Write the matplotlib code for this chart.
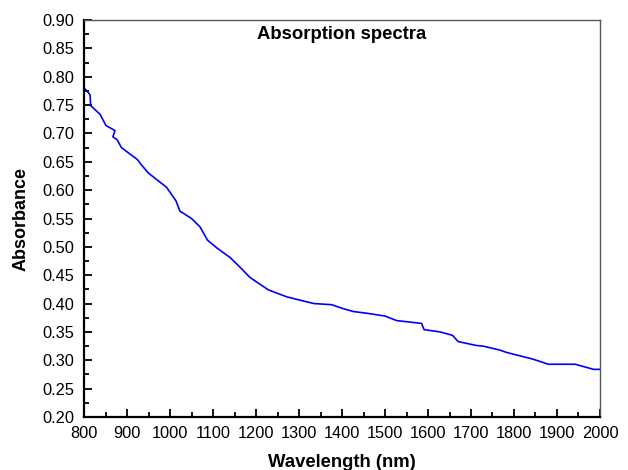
import matplotlib.pyplot as plt
from matplotlib.ticker import MultipleLocator

plt.rcParams['font.family'] = ['Liberation Sans', 'DejaVu Sans']

# absorption spectrum, read point by point
wavelength = [800, 800, 808, 814, 815.5, 837, 851, 872, 867, 877, 887, 924, 934, 950,
              992, 1014, 1023, 1050, 1070, 1087, 1109, 1140, 1163, 1186, 1229, 1271,
              1302, 1335, 1376, 1403, 1426, 1457, 1500, 1527, 1585, 1591, 1628, 1657,
              1670, 1713, 1728, 1767, 1782, 1844, 1880, 1942, 1985, 2000]
absorbance = [0.801, 0.780, 0.774, 0.768, 0.749, 0.734, 0.714, 0.705, 0.694, 0.689,
              0.675, 0.654, 0.644, 0.630, 0.605, 0.581, 0.563, 0.550, 0.535, 0.512,
              0.498, 0.481, 0.464, 0.446, 0.424, 0.412, 0.406, 0.400, 0.398, 0.391,
              0.386, 0.383, 0.378, 0.370, 0.365, 0.354, 0.350, 0.344, 0.333, 0.326,
              0.325, 0.318, 0.314, 0.302, 0.293, 0.293, 0.284, 0.284]

fig = plt.figure(figsize=(6.28, 4.70), dpi=100)
ax = fig.add_axes([0.1338, 0.1128, 0.8216, 0.8446])

ax.plot(wavelength, absorbance, color="#0000FF", linewidth=1.2)

ax.set_xlim(800, 2000)
ax.set_ylim(0.20, 0.90)
ax.xaxis.set_major_locator(MultipleLocator(100))
ax.xaxis.set_minor_locator(MultipleLocator(50))
ax.yaxis.set_major_locator(MultipleLocator(0.05))
ax.yaxis.set_minor_locator(MultipleLocator(0.025))
ax.yaxis.set_major_formatter(plt.FormatStrFormatter('%.2f'))

ax.tick_params(which='both', direction='in', top=False, right=False,
               labelsize=11.8, width=1.3, color='black')
ax.tick_params(axis='x', which='major', length=6, pad=6.5)
ax.tick_params(axis='y', which='major', length=6, pad=7)
ax.tick_params(which='minor', length=3.5)

for side in ['left', 'bottom']:
    ax.spines[side].set_linewidth(1.6)
    ax.spines[side].set_color('black')
for side in ['top', 'right']:
    ax.spines[side].set_linewidth(1.0)
    ax.spines[side].set_color('#555555')

ax.text(0.5, 0.985, "Absorption spectra", transform=ax.transAxes,
        ha='center', va='top', fontsize=13.3, fontweight='bold')
ax.set_xlabel("Wavelength (nm)", fontsize=13.3, fontweight='bold', labelpad=9)
ax.set_ylabel("Absorbance", fontsize=13, fontweight='bold', labelpad=9)

fig.savefig("out.png", dpi=100)
